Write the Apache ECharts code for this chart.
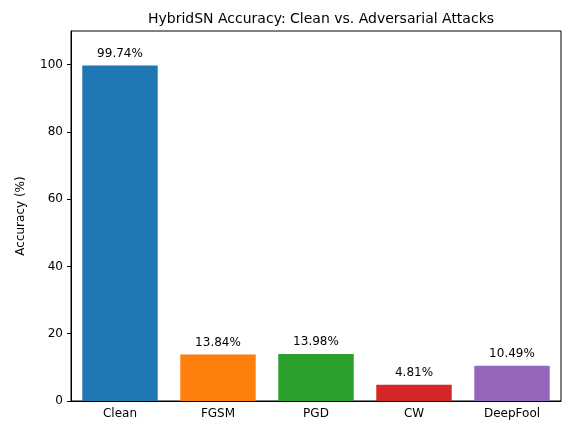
<!DOCTYPE html>
<html>
<head>
<meta charset="utf-8">
<script src="https://cdn.jsdelivr.net/npm/echarts@6/dist/echarts.min.js"></script>
<style>html,body{margin:0;padding:0;background:#fff}#c{width:571px;height:435px}</style>
</head>
<body>
<div id="c"></div>
<script>
// data
var methods = ['Clean', 'FGSM', 'PGD', 'CW', 'DeepFool']
var accuracy = [99.74, 13.84, 13.98, 4.81, 10.49]
var colors = ['#1f77b4', '#ff7f0e', '#2ca02c', '#d62728', '#9467bd']

var chart = echarts.init(document.getElementById('c'))
var font = 'DejaVu Sans'
chart.setOption({
  animation: false,
  title: {
    text: 'HybridSN Accuracy: Clean vs. Adversarial Attacks',
    left: 316, top: 7, textAlign: 'center',
    textStyle: { fontFamily: font, fontSize: 14, fontWeight: 'normal', color: '#000' }
  },
  grid: { left: 71, right: 10, top: 31, bottom: 34, show: true, borderColor: '#000', borderWidth: 1 },
  xAxis: {
    type: 'category', data: methods,
    axisLine: { lineStyle: { color: '#000' } },
    axisTick: { alignWithLabel: true, length: 4, lineStyle: { color: '#000' } },
    axisLabel: { fontFamily: font, fontSize: 12, color: '#000', margin: 7 }
  },
  yAxis: {
    type: 'value', min: 0, max: 110, interval: 20,
    name: 'Accuracy (%)', nameLocation: 'middle', nameGap: 44,
    nameTextStyle: { fontFamily: font, fontSize: 12, color: '#000' },
    axisLine: { show: true, lineStyle: { color: '#000' } },
    axisTick: { show: true, length: 4, lineStyle: { color: '#000' } },
    axisLabel: { fontFamily: font, fontSize: 12, color: '#000', showMaxLabel: false },
    splitLine: { show: false }
  },
  series: [{
    type: 'bar', barWidth: '77%',
    data: accuracy.map(function (v, i) { return { value: v, itemStyle: { color: colors[i] } } }),
    label: {
      show: true, position: 'top', distance: 6,
      fontFamily: font, fontSize: 12, color: '#000',
      formatter: function (p) { return p.value.toFixed(2) + '%' }
    }
  }]
})
</script>
</body>
</html>
